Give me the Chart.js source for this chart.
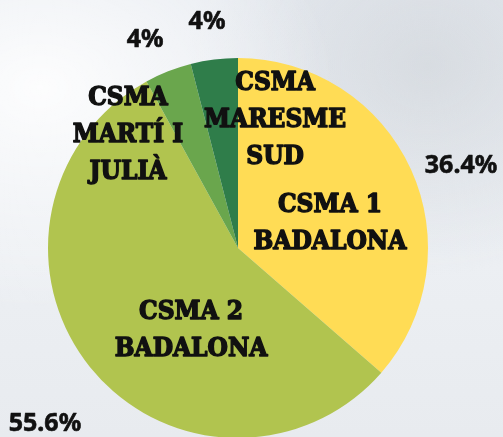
<!DOCTYPE html>
<html>
<head>
<meta charset="utf-8">
<script src="https://cdn.jsdelivr.net/npm/chart.js@4/dist/chart.umd.min.js"></script>
<style>
    html, body {
        margin: 0;
        padding: 0;
        width: 503px;
        height: 437px;
        overflow: hidden;
    }
    body {
        background:
            radial-gradient(ellipse at 8% 20%, rgba(255,255,255,0.9) 0%, rgba(255,255,255,0) 45%),
            radial-gradient(ellipse at 85% 15%, rgba(200,205,210,0.5) 0%, rgba(200,205,210,0) 40%),
            linear-gradient(180deg, #e6eaf0 0%, #eceff3 60%, #e8ebef 100%);
    }
    #wrap {
        position: absolute;
        left: 0;
        top: 0;
    }
</style>
</head>
<body>
<div id="wrap">
    <canvas id="pieChart" width="503" height="460"></canvas>
</div>
<script>
// values
const categories = ['CSMA 1 BADALONA', 'CSMA 2 BADALONA', 'CSMA MARTÍ I JULIÀ', 'CSMA MARESME SUD'];
const values = [36.4, 55.6, 4, 4];
const valueLabels = ['36.4%', '55.6%', '4%', '4%'];
const nameLines = [
    ['CSMA 1', 'BADALONA'],
    ['CSMA 2', 'BADALONA'],
    ['CSMA', 'MARTÍ I', 'JULIÀ'],
    ['CSMA', 'MARESME', 'SUD']
];
const sliceColors = ['#ffdc55', '#b1c44f', '#6aa64d', '#2f7d4a'];

// where each label sits, in units of the pie radius from its centre
const nameOffsets = [[0.484, -0.126], [-0.247, 0.437], [-0.579, -0.595], [0.195, -0.674]];
const valueOffsets = [[1.174, -0.432], [-1.016, 0.926], [-0.489, -1.095], [-0.163, -1.189]];

const pieLabels = {
    id: 'pieLabels',
    afterDatasetsDraw(chart) {
        const arcs = chart.getDatasetMeta(0).data;
        const c = chart.ctx;
        c.save();
        c.textAlign = 'center';
        c.textBaseline = 'middle';
        c.fillStyle = '#111';
        c.strokeStyle = '#111';
        c.lineJoin = 'round';
        arcs.forEach((arc, i) => {
            const r = arc.outerRadius;
            // slice names, heavy slab face
            c.font = 'bold 26px "DejaVu Serif Condensed", "DejaVu Serif"';
            c.lineWidth = 1.4;
            const lines = nameLines[i];
            const lineH = 37;
            const cx = arc.x + nameOffsets[i][0] * r;
            const cy = arc.y + nameOffsets[i][1] * r;
            lines.forEach((txt, j) => {
                const y = cy + (j - (lines.length - 1) / 2) * lineH;
                c.fillText(txt, cx, y);
                c.strokeText(txt, cx, y);
            });
            // percentages
            c.font = 'bold 25px "Noto Sans"';
            c.lineWidth = 0.6;
            const px = arc.x + valueOffsets[i][0] * r;
            const py = arc.y + valueOffsets[i][1] * r;
            c.fillText(valueLabels[i], px, py);
            c.strokeText(valueLabels[i], px, py);
        });
        c.restore();
    }
};

const ctx = document.getElementById('pieChart').getContext('2d');
const pieChart = new Chart(ctx, {
    type: 'pie',
    data: {
        labels: categories,
        datasets: [{
            data: values,
            backgroundColor: sliceColors,
            borderWidth: 0
        }]
    },
    options: {
        responsive: false,
        animation: false,
        layout: {
            padding: { left: 48, right: 75, top: 58, bottom: 22 }
        },
        plugins: {
            legend: { display: false },
            tooltip: { enabled: false }
        }
    },
    plugins: [pieLabels]
});
</script>
</body>
</html>
